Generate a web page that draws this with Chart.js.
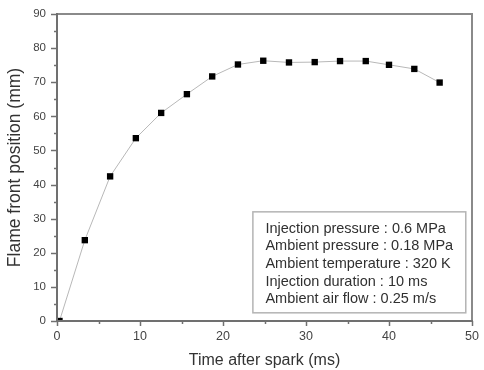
<!DOCTYPE html>
<html>
<head>
<meta charset="utf-8">
<script src="https://cdn.jsdelivr.net/npm/chart.js@4.4.1/dist/chart.umd.min.js"></script>
<style>
  html, body { margin: 0; padding: 0; background: #fff; }
  #wrap { width: 484px; height: 370px; }
</style>
</head>
<body>
<div id="wrap"><canvas id="flameChart" width="484" height="370"></canvas></div>
<script>
// tempo apos a centelha (ms) e posicao da frente de chama (mm)
const tempoMs = [0.3, 3.35, 6.4, 9.5, 12.55, 15.65, 18.7, 21.8, 24.85, 27.95, 31.05, 34.1, 37.2, 40.0, 43.05, 46.1];
const posicaoMm = [0, 23.7, 42.4, 53.6, 61.0, 66.5, 71.7, 75.2, 76.3, 75.8, 75.9, 76.2, 76.2, 75.1, 73.9, 69.9];

const ticksX = [0, 10, 20, 30, 40, 50];
const ticksY = [0, 10, 20, 30, 40, 50, 60, 70, 80, 90];

const condicoes = [
    "Injection pressure : 0.6 MPa",
    "Ambient pressure : 0.18 MPa",
    "Ambient temperature : 320 K",
    "Injection duration : 10 ms",
    "Ambient air flow : 0.25 m/s"
];

const FONTE = "'Liberation Sans', Arial, Helvetica, sans-serif";

// moldura do grafico e marcas de escala (maiores e menores)
const molduraPlugin = {
    id: "moldura",
    afterDatasetsDraw(chart) {
        const { ctx, chartArea: a, scales } = chart;
        ctx.save();
        ctx.lineCap = "butt";

        ctx.strokeStyle = "#8a8a8a";
        ctx.lineWidth = 2;
        ctx.beginPath();
        ctx.moveTo(a.left, a.top);
        ctx.lineTo(a.right, a.top);
        ctx.lineTo(a.right, a.bottom);
        ctx.stroke();

        ctx.strokeStyle = "#707070";
        ctx.beginPath();
        ctx.moveTo(a.left, a.top - 1);
        ctx.lineTo(a.left, a.bottom);
        ctx.lineTo(a.right + 1, a.bottom);
        ctx.stroke();

        ctx.lineWidth = 1.5;
        for (let v = 0; v <= 50; v += 5) {
            const px = Math.round(scales.x.getPixelForValue(v)) + 0.5;
            const len = v % 10 === 0 ? 5 : 3;
            ctx.beginPath();
            ctx.moveTo(px, a.bottom);
            ctx.lineTo(px, a.bottom + len);
            ctx.stroke();
        }
        for (let v = 0; v <= 90; v += 5) {
            const py = Math.round(scales.y.getPixelForValue(v)) + 0.5;
            const len = v % 10 === 0 ? 6 : 3;
            ctx.beginPath();
            ctx.moveTo(a.left, py);
            ctx.lineTo(a.left - len, py);
            ctx.stroke();
        }
        ctx.restore();
    }
};

// caixa com as condicoes do ensaio
const condicoesPlugin = {
    id: "condicoes",
    afterDraw(chart) {
        const { ctx, scales } = chart;
        const x0 = scales.x.getPixelForValue(23.6);
        const x1 = scales.x.getPixelForValue(49.25);
        const y0 = scales.y.getPixelForValue(32.0);
        const y1 = scales.y.getPixelForValue(2.4);
        ctx.save();
        ctx.strokeStyle = "#b4b4b4";
        ctx.lineWidth = 1.5;
        ctx.strokeRect(x0, y0, x1 - x0, y1 - y0);
        ctx.fillStyle = "#303030";
        ctx.font = "14.5px " + FONTE;
        ctx.textBaseline = "middle";
        condicoes.forEach((linha, i) => {
            ctx.fillText(linha, x0 + 12.5, y0 + 17 + i * 17.6);
        });
        ctx.restore();
    }
};

const ctx = document.getElementById("flameChart").getContext("2d");

new Chart(ctx, {
    type: "scatter",
    data: {
        datasets: [{
            label: "Flame front",
            data: tempoMs.map((t, i) => ({ x: t, y: posicaoMm[i] })),
            showLine: true,
            borderColor: "#b8b8b8",
            borderWidth: 1,
            tension: 0,
            pointStyle: "rect",
            pointRadius: 4.5,
            pointBackgroundColor: "#000",
            pointBorderColor: "#000",
            pointBorderWidth: 0
        }]
    },
    options: {
        responsive: false,
        animation: false,
        layout: { padding: { top: 14, right: 12, left: 5, bottom: 0 } },
        plugins: {
            legend: { display: false },
            tooltip: { enabled: false }
        },
        scales: {
            x: {
                type: "linear",
                min: 0,
                max: 50,
                afterBuildTicks: s => { s.ticks = ticksX.map(v => ({ value: v })); },
                afterFit: s => { s.height = 49; },
                grid: { display: true, drawOnChartArea: false, color: "rgba(0,0,0,0)", tickLength: 5 },
                border: { display: false },
                ticks: {
                    color: "#444",
                    font: { family: FONTE, size: 12.5 },
                    padding: 3,
                    maxRotation: 0
                },
                title: {
                    display: true,
                    text: "Time after spark (ms)",
                    color: "#333",
                    font: { family: FONTE, size: 16 },
                    padding: { top: 0, bottom: 0 }
                }
            },
            y: {
                type: "linear",
                min: 0,
                max: 90,
                afterBuildTicks: s => { s.ticks = ticksY.map(v => ({ value: v })); },
                afterFit: s => { s.width = 52; },
                grid: { display: true, drawOnChartArea: false, color: "rgba(0,0,0,0)", tickLength: 6 },
                border: { display: false },
                ticks: {
                    color: "#444",
                    font: { family: FONTE, size: 11.5 },
                    padding: 5
                },
                title: {
                    display: true,
                    text: "Flame front position (mm)",
                    color: "#333",
                    font: { family: FONTE, size: 17.5 },
                    padding: { top: 0, bottom: 0 }
                }
            }
        }
    },
    plugins: [molduraPlugin, condicoesPlugin]
});
</script>
</body>
</html>
